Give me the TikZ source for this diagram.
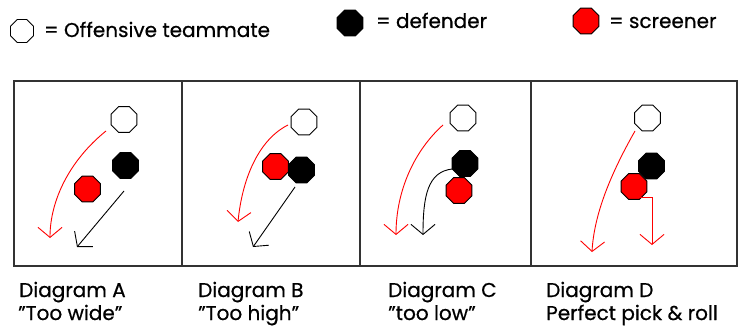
\documentclass[tikz,border=0pt]{standalone}
\usepackage{fontspec}
\setmainfont{Poppins}[FakeBold=0.6]
\usetikzlibrary{shapes.geometric,arrows.meta}
\begin{document}
\begin{tikzpicture}[x=1pt,y=-1pt,
  oct/.style={regular polygon, regular polygon sides=8, minimum size=28pt, inner sep=0pt, draw=black, line width=0.9pt},
  offp/.style={oct, fill=white},
  defp/.style={oct, fill=black},
  scrp/.style={oct, fill=red},
  frame/.style={line width=1.4pt, draw=black!80},
  mv/.style={line width=0.9pt, -{Straight Barb[length=10pt,width=24pt,line width=0.9pt]}},
  redmv/.style={mv, draw=red},
  blkmv/.style={mv, draw=black},
  lbl/.style={anchor=base west, inner sep=0pt, font=\fontsize{20}{22}\selectfont},
]
\useasboundingbox[fill=white] (0,0) rectangle (742,326);
% legend
\node[offp, minimum size=25pt] (lo) at (22,31) {};
\node[lbl] (lot) at (44,37) {= Offensive teammate};
\node[defp] (ld) at (350,23) {};
\node[lbl] (ldt) at (376,28) {= defender};
\node[scrp] (ls) at (586,21) {};
\node[lbl] (lst) at (609,28) {= screener};
% frame
\draw[frame] (14,81) rectangle (737,266);
\draw[frame] (182,81) -- (182,266);
\draw[frame] (360,81) -- (360,266);
\draw[frame] (531,81) -- (531,266);
% Diagram A
\node[offp] (wA) at (124,119.5) {};
\node[defp] (bA) at (125.5,165.5) {};
\node[scrp] (rA) at (87.5,189) {};
\coordinate (rAs) at (106,131); \coordinate (rAe) at (50,238);
\draw[redmv] (rAs) .. controls (70,160) and (50,200) .. (rAe);
\coordinate (bAs) at (124,191); \coordinate (bAe) at (77,247);
\draw[blkmv] (bAs) -- (bAe);
% Diagram B
\node[offp] (wB) at (304,122) {};
\node[scrp] (rB) at (275.5,166.5) {};
\node[defp] (bB) at (301.5,170) {};
\coordinate (rBs) at (288,125); \coordinate (rBe) at (238,222);
\draw[redmv] (rBs) .. controls (258,140) and (242,180) .. (rBe);
\coordinate (bBs) at (295,187); \coordinate (bBe) at (253,247);
\draw[blkmv] (bBs) -- (bBe);
% Diagram C
\node[offp] (wC) at (463,118) {};
\node[defp] (bC) at (465,163.5) {};
\node[scrp] (rC) at (459,190.5) {};
\coordinate (rCs) at (443,125); \coordinate (rCe) at (396,235);
\draw[redmv] (rCs) .. controls (415,150) and (396,190) .. (rCe);
\coordinate (bCs) at (452,169); \coordinate (bCe) at (423,235);
\draw[blkmv] (bCs) .. controls (428,172) and (423,195) .. (bCe);
% Diagram D
\node[offp] (wD) at (647.5,118) {};
\node[defp] (bD) at (651.5,166) {};
\node[scrp] (rD) at (634,186.5) {};
\coordinate (rDs) at (635,131); \coordinate (rDe) at (592,252);
\draw[redmv] (rDs) .. controls (610,175) and (594,215) .. (rDe);
\coordinate (rDs2) at (640,197); \coordinate (rDe2) at (652,245);
\draw[redmv] (rDs2) -- (652,197) -- (rDe2);
% captions
\node[lbl] (cA1) at (19,297) {Diagram A};
\node[lbl] (cA2) at (18,320) {\symbol{34}Too wide\symbol{34}};
\node[lbl] (cB1) at (198,297) {Diagram B};
\node[lbl] (cB2) at (198,320) {\symbol{34}Too high\symbol{34}};
\node[lbl] (cC1) at (388,297) {Diagram C};
\node[lbl] (cC2) at (388,320) {\symbol{34}too low\symbol{34}};
\node[lbl] (cD1) at (546,297) {Diagram D};
\node[lbl] (cD2) at (546,320) {Perfect pick \& roll};
\end{tikzpicture}
\end{document}
